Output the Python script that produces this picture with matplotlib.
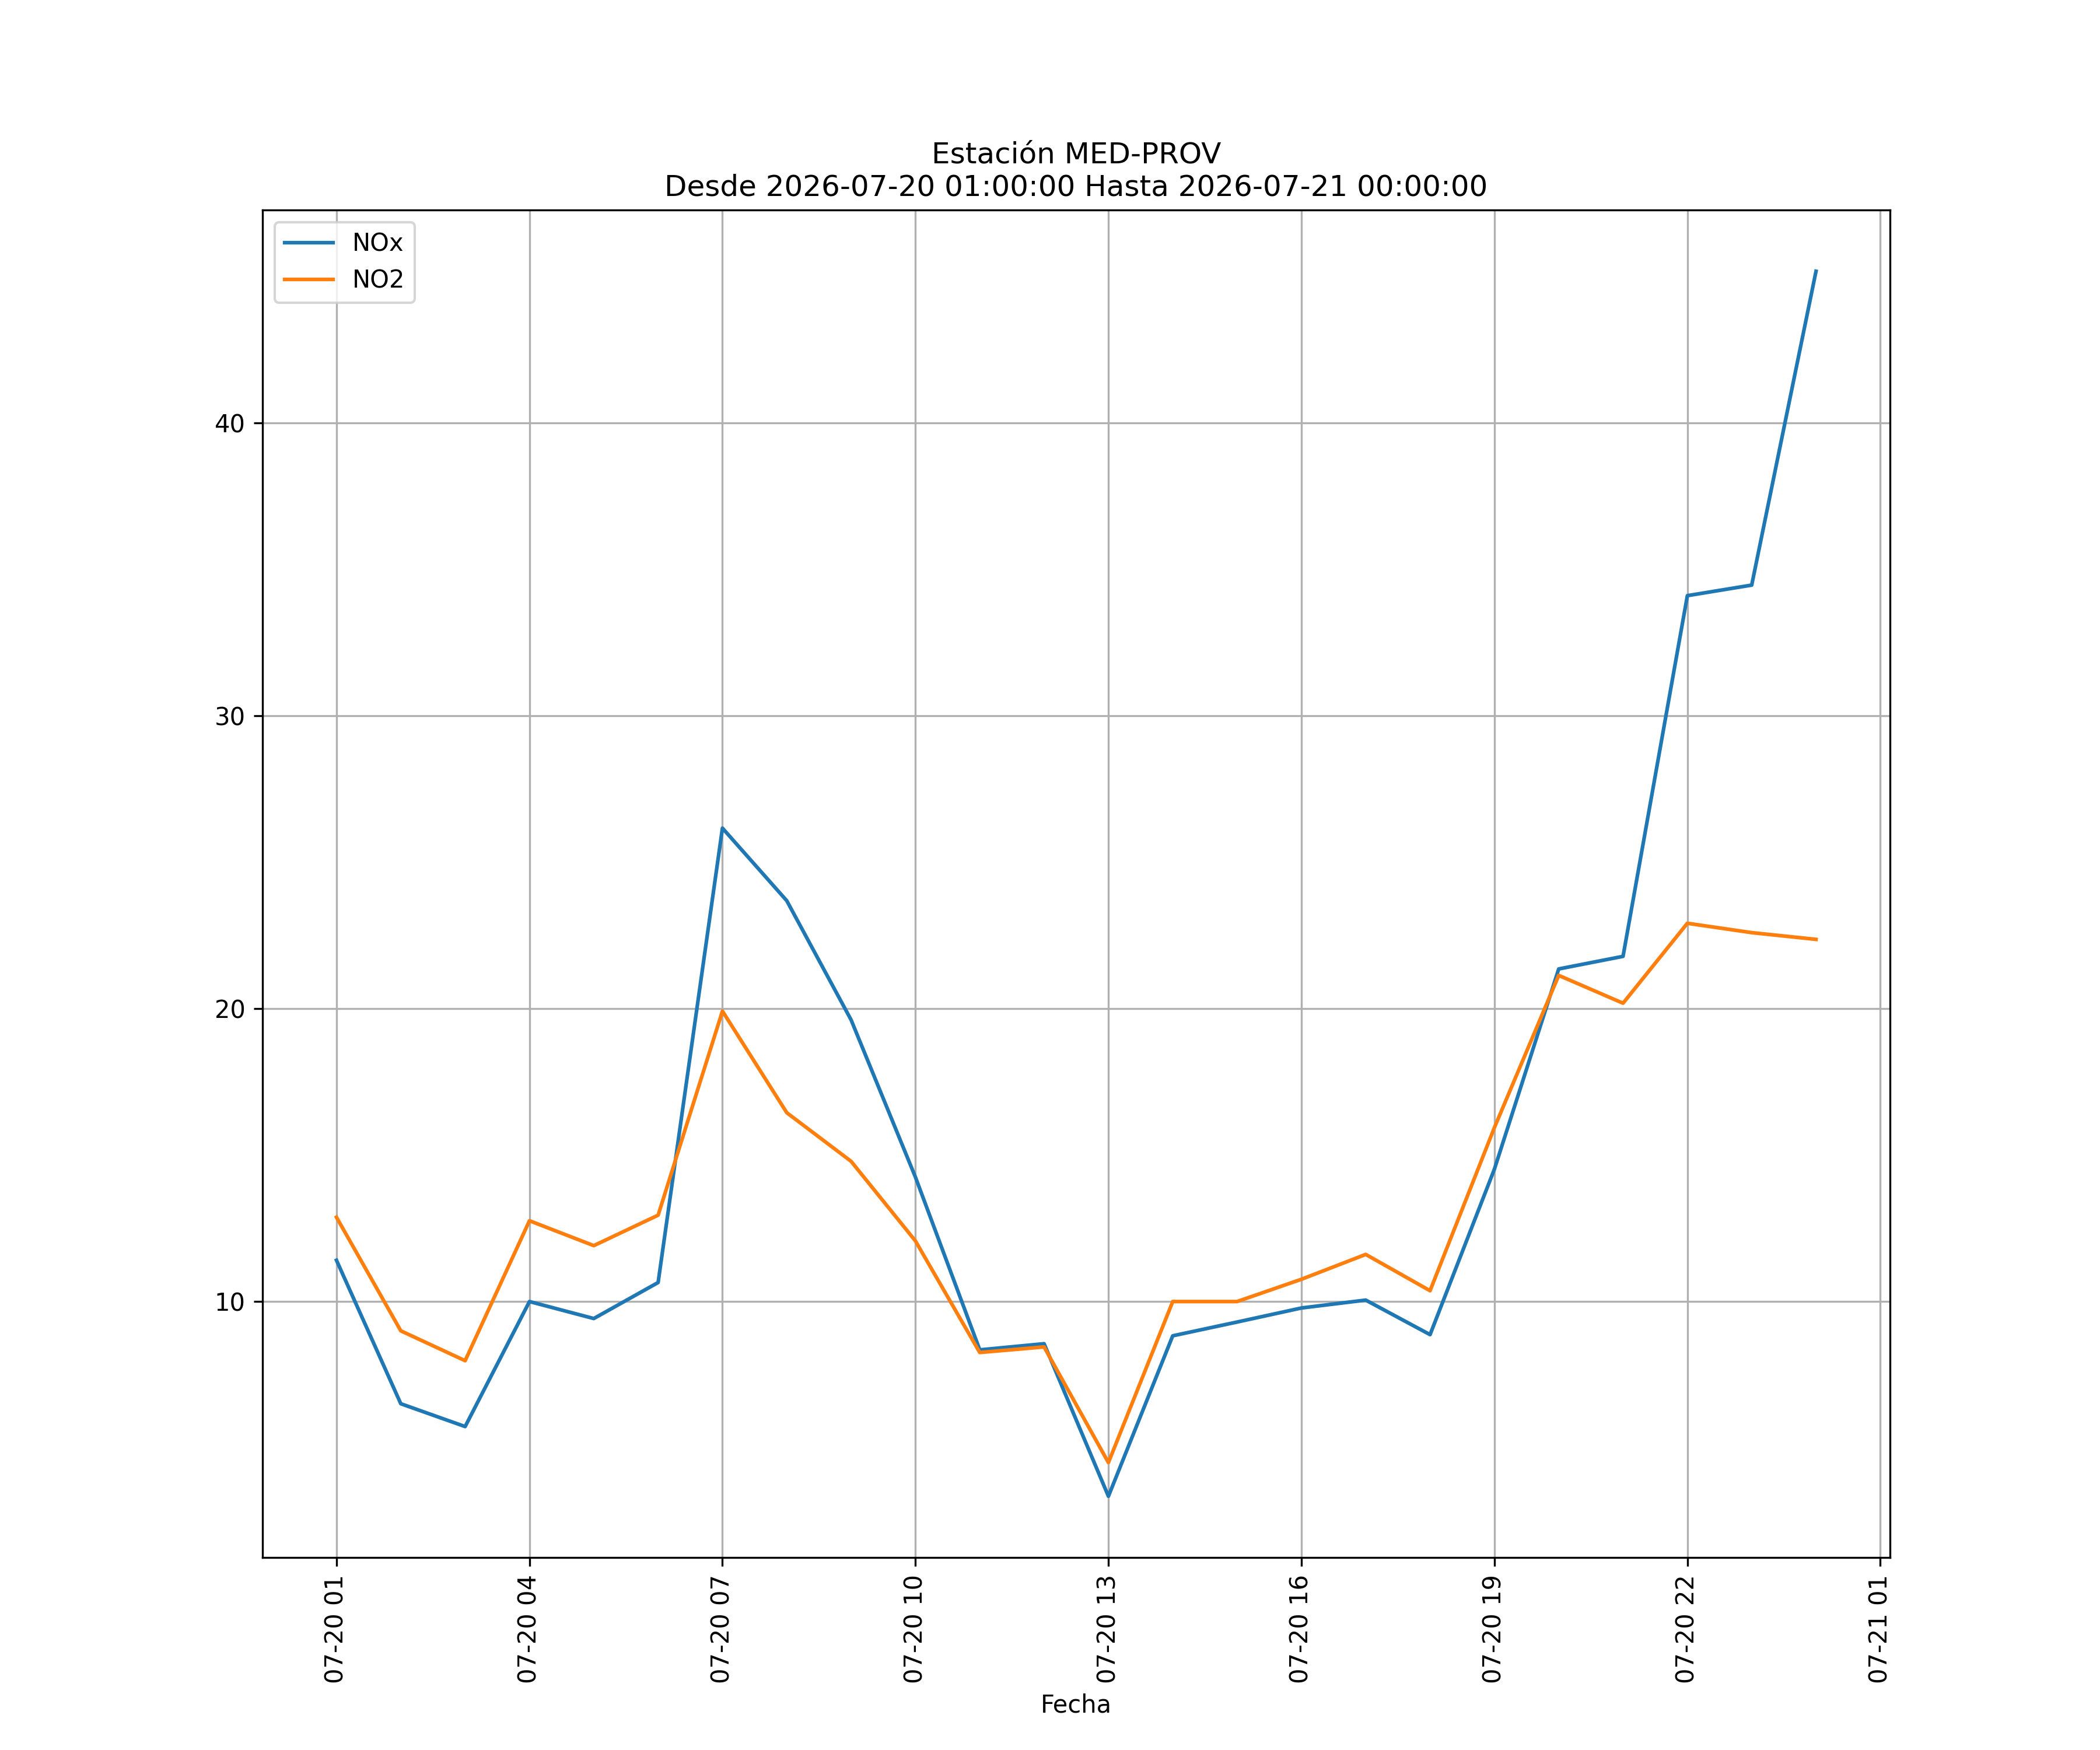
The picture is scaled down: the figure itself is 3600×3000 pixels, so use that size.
import matplotlib
matplotlib.use("Agg")
import matplotlib.pyplot as plt
import matplotlib.dates as mdates
import pandas as pd

station = "MED-PROV"
start_label = "2026-07-20 01:00:00"
end_label = "2026-07-21 00:00:00"

times = pd.date_range("2026-07-20 01:00", periods=24, freq="h")

nox = [11.41, 6.51, 5.73, 10.0, 9.42, 10.65, 26.17, 23.69, 19.62, 14.25,
       8.35, 8.56, 3.35, 8.83, 9.30, 9.78, 10.05, 8.87, 14.52, 21.36,
       21.79, 34.11, 34.47, 45.19]
no2 = [12.88, 9.0, 7.98, 12.76, 11.91, 12.95, 19.92, 16.45, 14.79, 12.07,
       8.26, 8.45, 4.5, 10.0, 10.0, 10.76, 11.61, 10.37, 15.94, 21.14,
       20.19, 22.92, 22.6, 22.37]

fig, ax = plt.subplots(figsize=(12, 10), dpi=300)
ax.plot(times, nox, label="NOx")
ax.plot(times, no2, label="NO2")

ax.xaxis.set_major_locator(mdates.HourLocator(byhour=[1, 4, 7, 10, 13, 16, 19, 22]))
ax.xaxis.set_major_formatter(mdates.DateFormatter("%m-%d %H"))
plt.setp(ax.get_xticklabels(), rotation=90)

ax.set_title(f"Estación {station}\nDesde {start_label} Hasta {end_label}")
ax.set_xlabel("Fecha")
ax.grid(True)
ax.legend(loc="upper left")

fig.savefig("out.png", dpi=300)
